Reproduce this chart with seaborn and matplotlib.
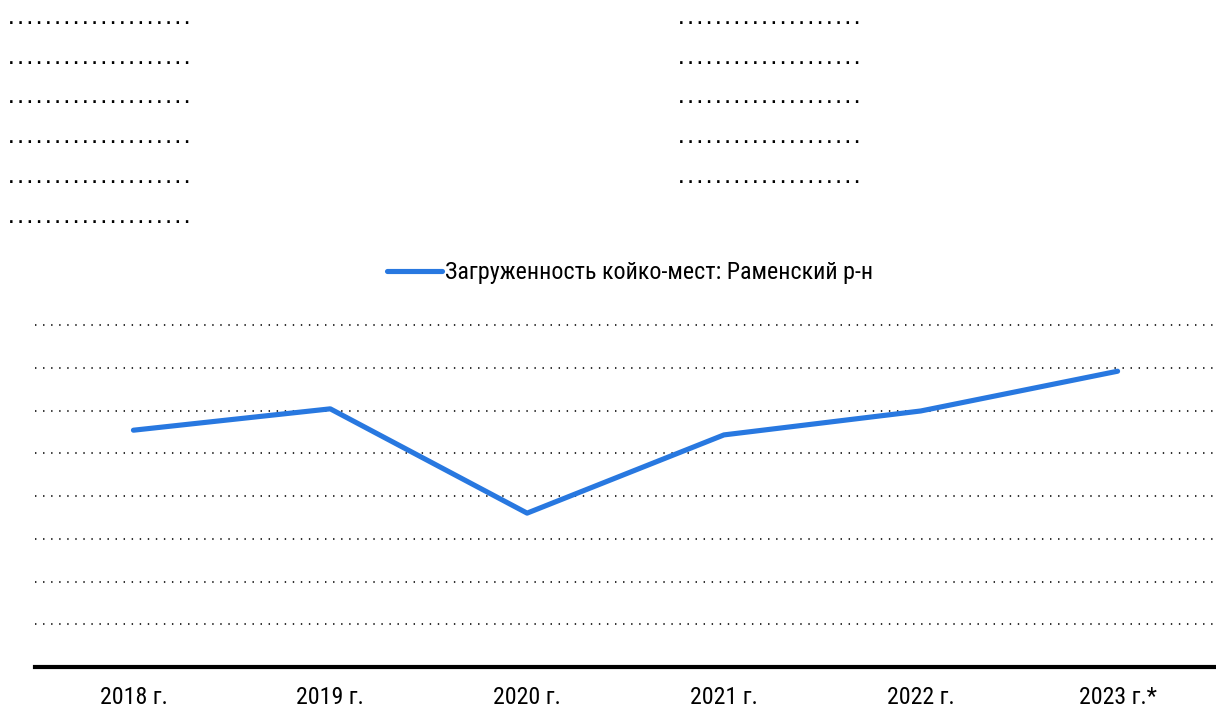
import pandas as pd
import matplotlib.pyplot as plt
import seaborn as sns

# data (occupancy, %)
years = ["2018 г.", "2019 г.", "2020 г.", "2021 г.", "2022 г.", "2023 г.*"]
occupancy = [55.4, 60.4, 36.0, 54.3, 59.9, 69.2]
series_name = "Загруженность койко-мест: Раменский р-н"

# placeholder rows of dots above the chart
left_rows = 6
right_rows = 5
dots = ". " * 20

sns.set_theme(style="white")
plt.rcParams['font.family'] = ['Roboto Condensed', 'Liberation Sans', 'DejaVu Sans']
plt.rcParams['text.color'] = 'black'

df = pd.DataFrame({"year": years, "value": occupancy})

fig = plt.figure(figsize=(12.16, 7.19), dpi=100)
ax = fig.add_axes([0.0288, 0.0723, 0.9712, 0.4875])

sns.lineplot(data=df, x="year", y="value", sort=False, ax=ax,
             color="#2878E0", linewidth=3.7, label=series_name,
             solid_capstyle="round", solid_joinstyle="round")

ax.set_xlim(-0.5, 5.5)
ax.set_ylim(0, 82)
ax.set_yticks(range(0, 90, 10))
ax.set_yticklabels([])
ax.grid(axis="y", color="#333333", linestyle=(0, (0.7, 3.3)), linewidth=1.45)
ax.grid(axis="x", visible=False)
ax.set_xlabel("")
ax.set_ylabel("")
for side in ["top", "left", "right"]:
    ax.spines[side].set_visible(False)
ax.spines["bottom"].set_color("black")
ax.spines["bottom"].set_linewidth(3.0)
ax.tick_params(axis="x", length=0, pad=14, labelsize=17.2, colors="black")
ax.tick_params(axis="y", length=0)

leg = ax.legend(loc="center", bbox_to_anchor=(630 / 1216, 1 - 273 / 719),
                bbox_transform=fig.transFigure, frameon=False, fontsize=17.3,
                handlelength=2.3, handletextpad=0.15)

# dotted placeholder text
row_y = [22.7, 62.7, 101.7, 141.7, 181.7, 221.7]
for i in range(left_rows):
    fig.text(9 / 1216, 1 - (row_y[i] + 1.5) / 719, dots, fontsize=12.1,
             family="Liberation Sans", fontweight="bold", color="black",
             va="baseline", ha="left")
for i in range(right_rows):
    fig.text(679 / 1216, 1 - (row_y[i] + 1.5) / 719, dots, fontsize=12.1,
             family="Liberation Sans", fontweight="bold", color="black",
             va="baseline", ha="left")

fig.savefig("out.png", dpi=100)
